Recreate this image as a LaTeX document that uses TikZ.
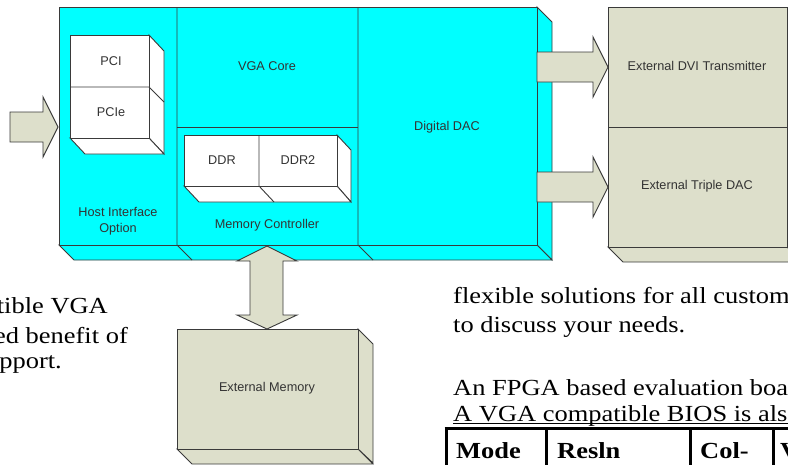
\documentclass[tikz,border=0pt]{standalone}
\usepackage{fontspec}
\setmainfont{Liberation Serif}
\newfontfamily\lblfont{Liberation Sans}
\newfontfamily\docfont[FakeStretch=1.15]{Liberation Serif}
\usetikzlibrary{calc}
\definecolor{cyanbox}{HTML}{00FFFF}
\definecolor{khaki}{HTML}{DDDFCB}
\definecolor{edgec}{HTML}{3A3A3A}
\definecolor{lblc}{HTML}{333333}
\tikzset{
  face/.style={draw=edgec, line width=0.9pt, line join=miter},
  cyanface/.style={face, fill=cyanbox},
  khakiface/.style={face, fill=khaki},
  whiteface/.style={face, fill=white},
  blockarrow/.style={draw=edgec, line width=0.9pt, fill=khaki, line join=miter},
  lbl/.style={font=\lblfont\fontsize{12.7}{16}\selectfont, text=lblc, align=center, inner sep=0pt},
  docl/.style={font=\docfont\fontsize{23}{28}\selectfont, anchor=base west, inner sep=0pt},
  docr/.style={font=\docfont\fontsize{23}{28}\selectfont, anchor=base east, inner sep=0pt},
  tabhead/.style={font=\docfont\bfseries\fontsize{23}{28}\selectfont, anchor=base west, inner sep=0pt},
  tabline/.style={line width=3pt},
}
\begin{document}
\begin{tikzpicture}[x=1pt,y=-1pt]
\useasboundingbox (0,0) rectangle (788,464);
\clip (0,0) rectangle (788,464);

% ---------- main cyan block ----------
\coordinate (mTL) at (59,7);
\coordinate (mBR) at (537,245);
\draw[cyanface] (537,7) -- (552,22) -- (552,260) -- (537,245) -- cycle;
\draw[cyanface] (59,245) -- (537,245) -- (552,260) -- (74,260) -- cycle;
\draw[cyanface] (mTL) rectangle (mBR);
\draw[face] (177,7) -- (177,245) -- (192,260);
\draw[face] (358,7) -- (358,245) -- (373,260);
\draw[face] (177,127) -- (358,127);

% PCI / PCIe box
\draw[whiteface] (149,35) -- (164,51) -- (164,154) -- (149,138) -- cycle;
\draw[whiteface] (70,138) -- (149,138) -- (164,154) -- (85,154) -- cycle;
\draw[whiteface] (70,35) rectangle (149,138);
\draw[face] (70,87) -- (149,87) -- (164,102);

% DDR / DDR2 box
\draw[whiteface] (337,135) -- (351,150) -- (351,202) -- (337,186) -- cycle;
\draw[whiteface] (184,186) -- (337,186) -- (351,202) -- (199,202) -- cycle;
\draw[whiteface] (184,135) rectangle (337,186);
\draw[face] (259,135) -- (259,186) -- (274,202);

% ---------- right khaki block ----------
\draw[khakiface] (608,247) -- (787,247) -- (802,262) -- (623,262) -- cycle;
\draw[khakiface] (608,7) rectangle (787,247);
\draw[face] (608,127) -- (787,127);

% ---------- external memory ----------
\draw[khakiface] (358,329) -- (373,344) -- (373,463) -- (358,449) -- cycle;
\draw[khakiface] (177,449) -- (358,449) -- (373,464) -- (192,464) -- cycle;
\draw[khakiface] (177,329) rectangle (358,449);

% ---------- block arrows ----------
\draw[blockarrow] (10,112) -- (43,112) -- (43,97) -- (58,127) -- (43,157) -- (43,142) -- (10,142) -- cycle;
\draw[blockarrow] (537,52) -- (593,52) -- (593,37) -- (608,67) -- (593,97) -- (593,82) -- (537,82) -- cycle;
\draw[blockarrow] (537,172) -- (593,172) -- (593,157) -- (608,187) -- (593,217) -- (593,202) -- (537,202) -- cycle;
\draw[blockarrow] (267,246) -- (297,261) -- (283,261) -- (283,315) -- (297,315) -- (267,329)
  -- (237,315) -- (250,315) -- (250,261) -- (237,261) -- cycle;

% ---------- labels ----------
\node[lbl] (pci) at (111,61) {PCI};
\node[lbl] (pcie) at (111,112) {PCIe};
\node[lbl] (vga) at (267,66) {VGA Core};
\node[lbl] (ddr) at (222,160) {DDR};
\node[lbl] (ddr2) at (298,160) {DDR2};
\node[lbl] (host) at (118,221) {Host Interface\\Option};
\node[lbl] (memc) at (267,225) {Memory Controller};
\node[lbl] (dac) at (447,127) {Digital DAC};
\node[lbl] (dvi) at (697,66) {External DVI Transmitter};
\node[lbl] (tdac) at (697,186) {External Triple DAC};
\node[lbl] (extmem) at (267,388) {External Memory};

% ---------- document text ----------
\node[docr] (t1) at (108,313) {tible VGA};
\node[docr] (t2) at (128,343) {ed benefit of};
\node[docr] (t3) at (62,368) {pport.};
\node[docl] (t4) at (453,303) {flexible solutions for all custom};
\node[docl] (t5) at (453,332) {to discuss your needs.};
\node[docl] (t6) at (453,395) {An FPGA based evaluation boa};
\node[docl] (t7) at (453,421) {A VGA compatible BIOS is als};
\draw[line width=0.8pt] (453,423.5) -- (790,423.5);

% ---------- table ----------
\draw[tabline] (444.5,428) -- (792,428);
\draw[tabline] (446,428) -- (446,470);
\draw[tabline] (546,428) -- (546,470);
\draw[tabline] (690,428) -- (690,470);
\draw[tabline] (773,428) -- (773,470);
\node[tabhead] (h1) at (456,458) {Mode};
\node[tabhead] (h2) at (557,458) {Resln};
\node[tabhead] (h3) at (700,458) {Col-};
\node[tabhead] (h4) at (780,458) {V};
\end{tikzpicture}
\end{document}
